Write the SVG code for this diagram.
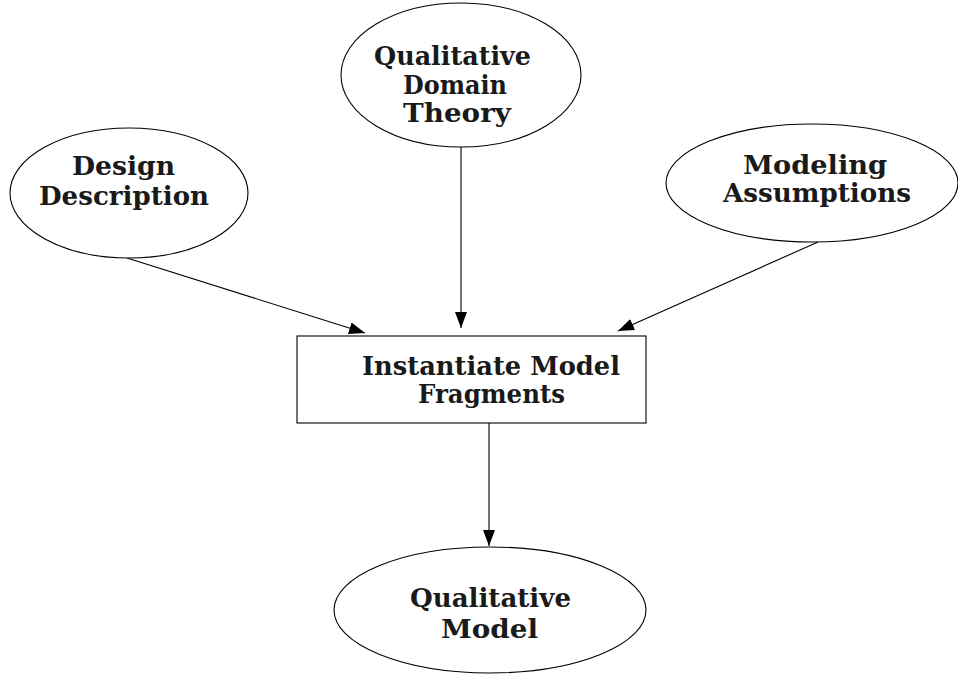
<svg xmlns="http://www.w3.org/2000/svg" width="958" height="674" viewBox="0 0 958 674">
<style>
.node{fill:#fff;stroke:#000;stroke-width:1.1}
.t{font-family:"DejaVu Serif","Liberation Serif",serif;font-weight:bold;font-size:26px;fill:#1a1a1a;text-anchor:middle}
.edge{stroke:#000;stroke-width:1.1;fill:none;marker-end:url(#ah)}
</style>
<defs>
<marker id="ah" markerUnits="userSpaceOnUse" markerWidth="16" markerHeight="12" viewBox="0 0 16 12" refX="16" refY="6" orient="auto">
<path d="M0,0 L16,6 L0,12 z" fill="#000"/>
</marker>
</defs>
<rect width="958" height="674" fill="#fff"/>
<g id="connectors">
<line class="edge" x1="127" y1="258" x2="365" y2="333"/>
<line class="edge" x1="461" y1="147" x2="461" y2="328"/>
<line class="edge" x1="818" y1="242" x2="618" y2="331"/>
<line class="edge" x1="489" y1="423" x2="489" y2="546"/>
</g>
<g id="design-description">
<ellipse class="node" cx="129" cy="193" rx="119" ry="65"/>
<text class="t" x="123.5" y="175" textLength="103" lengthAdjust="spacingAndGlyphs">Design</text>
<text class="t" x="124" y="205" textLength="170" lengthAdjust="spacingAndGlyphs">Description</text>
</g>
<g id="qualitative-domain-theory">
<ellipse class="node" cx="461" cy="75" rx="120" ry="72"/>
<text class="t" x="452.5" y="65" textLength="157" lengthAdjust="spacingAndGlyphs">Qualitative</text>
<text class="t" x="455" y="94" textLength="104" lengthAdjust="spacingAndGlyphs">Domain</text>
<text class="t" x="457" y="122" textLength="108" lengthAdjust="spacingAndGlyphs">Theory</text>
</g>
<g id="modeling-assumptions">
<ellipse class="node" cx="812" cy="183" rx="146" ry="59"/>
<text class="t" x="815" y="174" textLength="144" lengthAdjust="spacingAndGlyphs">Modeling</text>
<text class="t" x="817" y="202" textLength="188" lengthAdjust="spacingAndGlyphs">Assumptions</text>
</g>
<g id="instantiate-model-fragments">
<rect class="node" x="297" y="336" width="349" height="87"/>
<text class="t" x="491" y="375" textLength="258" lengthAdjust="spacingAndGlyphs">Instantiate Model</text>
<text class="t" x="491.5" y="403" textLength="147" lengthAdjust="spacingAndGlyphs">Fragments</text>
</g>
<g id="qualitative-model">
<ellipse class="node" cx="490" cy="610" rx="156" ry="63"/>
<text class="t" x="490.5" y="607" textLength="161" lengthAdjust="spacingAndGlyphs">Qualitative</text>
<text class="t" x="489.5" y="638" textLength="97" lengthAdjust="spacingAndGlyphs">Model</text>
</g>
</svg>
